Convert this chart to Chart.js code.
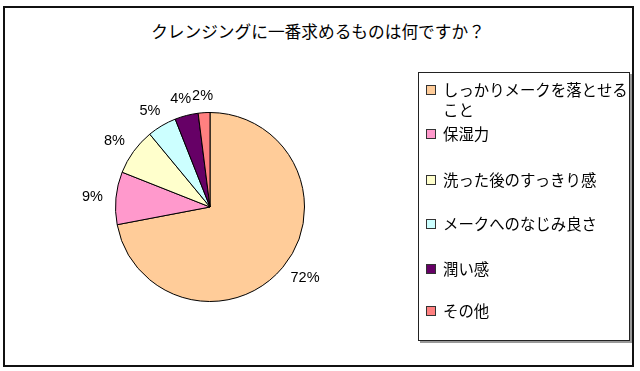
<!DOCTYPE html>
<html>
<head>
<meta charset="utf-8">
<script src="https://cdn.jsdelivr.net/npm/chart.js@4/dist/chart.umd.min.js"></script>
<style>
  html, body { margin:0; padding:0; background:#fff; }
  body { width:640px; height:371px; position:relative; overflow:hidden; font-family:"Noto Sans CJK JP", sans-serif; }
  #frame { position:absolute; left:3px; top:6px; width:627px; height:357px; border:2px solid #111; }
  #c { position:absolute; left:0; top:0; }
  #title { position:absolute; left:0; width:636px; top:20px; text-align:center; font-size:16.7px; line-height:22px; color:#000; }
  #legend { position:absolute; left:418px; top:72px; width:210px; height:267px; border:1px solid #222; box-shadow:2px 2px 0 #999; background:#fff; }
  .item { position:absolute; left:7px; width:202px; font-size:15.4px; line-height:20px; color:#000; }
  .sw { position:absolute; left:0; top:6px; width:8px; height:8px; border:1px solid #333; }
  .txt { position:absolute; left:17px; width:188px; }
</style>
</head>
<body>
<div id="frame"></div>
<div id="title"></div>
<canvas id="c" width="640" height="371"></canvas>
<div id="legend"></div>
<script>
const chartTitle = "クレンジングに一番求めるものは何ですか？";
const categories = ["しっかりメークを落とせること", "保湿力", "洗った後のすっきり感", "メークへのなじみ良さ", "潤い感", "その他"];
const values = [72, 9, 8, 5, 4, 2];
const colors = ["#FFCC99", "#FF99CC", "#FFFFCC", "#CCFFFF", "#660066", "#FF8080"];

document.getElementById('title').textContent = chartTitle;

// HTML legend built from the arrays
const legendTops = [6, 50, 96, 140, 185, 227];
const legend = document.getElementById('legend');
categories.forEach((cat, i) => {
  const it = document.createElement('div');
  it.className = 'item';
  it.style.top = legendTops[i] + 'px';
  const sw = document.createElement('div');
  sw.className = 'sw';
  sw.style.background = colors[i];
  const tx = document.createElement('div');
  tx.className = 'txt';
  tx.textContent = cat;
  it.appendChild(sw); it.appendChild(tx);
  legend.appendChild(it);
});

const pctLabels = {
  id: 'pctLabels',
  afterDatasetsDraw(chart) {
    const ctx = chart.ctx;
    const meta = chart.getDatasetMeta(0);
    const data = chart.data.datasets[0].data;
    const total = data.reduce((a, b) => a + b, 0);
    ctx.save();
    ctx.font = '14.5px "Liberation Sans", Arial, sans-serif';
    ctx.fillStyle = '#000';
    ctx.textAlign = 'center';
    ctx.textBaseline = 'middle';
    meta.data.forEach((arc, i) => {
      const p = arc.getProps(['x', 'y', 'startAngle', 'endAngle', 'outerRadius'], true);
      const mid = (p.startAngle + p.endAngle) / 2;
      const dx = Math.cos(mid), dy = Math.sin(mid);
      const txt = Math.round(data[i] / total * 100) + '%';
      const hw = ctx.measureText(txt).width / 2, hh = 7;
      const r = p.outerRadius + 10;
      const x = p.x + dx * r + dx * hw * 1.3;
      const y = p.y + dy * r + dy * hh;
      ctx.fillText(txt, x, y);
    });
    ctx.restore();
  }
};

new Chart(document.getElementById('c'), {
  type: 'pie',
  data: {
    labels: categories,
    datasets: [{
      data: values,
      backgroundColor: colors,
      borderColor: '#000',
      borderWidth: 1
    }]
  },
  options: {
    responsive: false,
    animation: false,
    events: [],
    layout: { padding: { left: 115, top: 112, right: 335, bottom: 69 } },
    plugins: {
      legend: { display: false },
      title: { display: false },
      tooltip: { enabled: false }
    }
  },
  plugins: [pctLabels]
});
</script>
</body>
</html>
